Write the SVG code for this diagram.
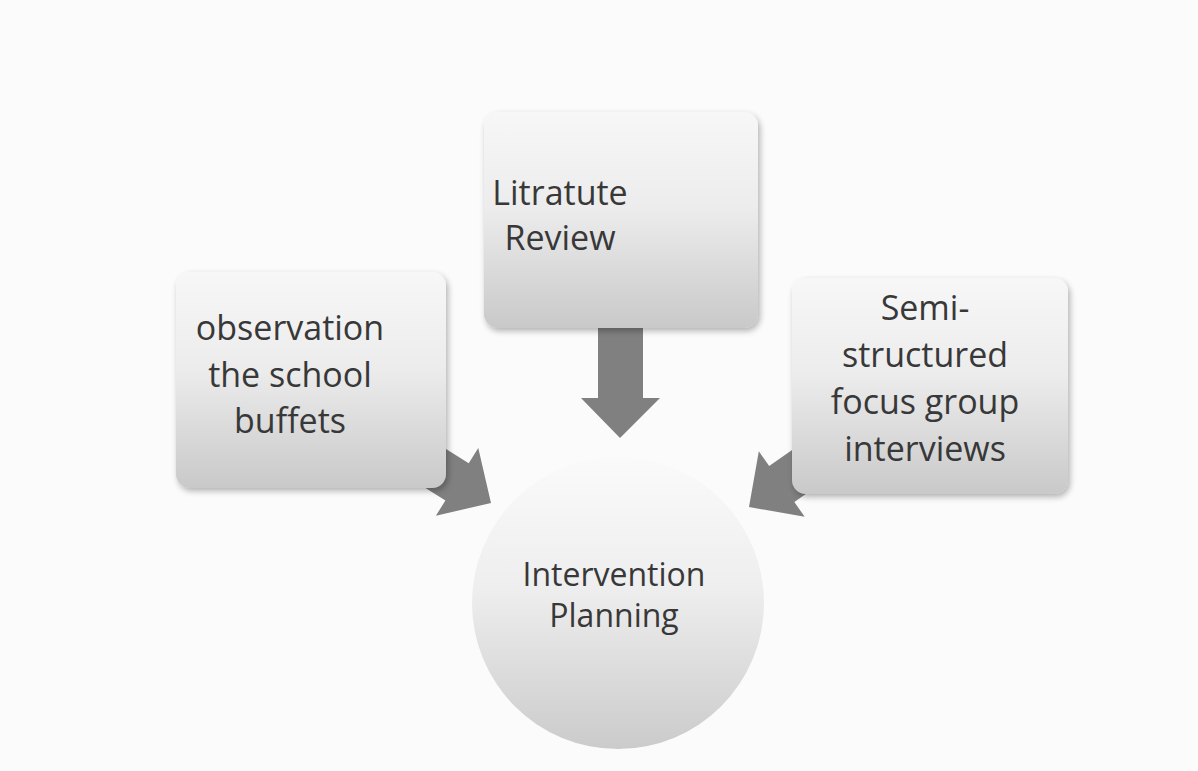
<svg xmlns="http://www.w3.org/2000/svg" width="1198" height="771" viewBox="0 0 1198 771">
<style>
.t{font-family:"Open Sans","Liberation Sans",sans-serif;fill:#383838;text-anchor:middle}
.b{font-size:34px}
.c{font-size:32px}
.arr{fill:#808080}
</style>
<defs>
<linearGradient id="g" x1="0" y1="0" x2="0" y2="1">
<stop offset="0" stop-color="#f7f7f7"/>
<stop offset="0.45" stop-color="#ececec"/>
<stop offset="1" stop-color="#c9c9c9"/>
</linearGradient>
<linearGradient id="gc" x1="0" y1="0" x2="0" y2="1">
<stop offset="0" stop-color="#fafafa"/>
<stop offset="0.45" stop-color="#eeeeee"/>
<stop offset="1" stop-color="#cbcbcb"/>
</linearGradient>
<filter id="sh" x="-10%" y="-10%" width="125%" height="125%">
<feGaussianBlur in="SourceAlpha" stdDeviation="3"/>
<feOffset dx="2" dy="3"/>
<feComponentTransfer><feFuncA type="linear" slope="0.3"/></feComponentTransfer>
<feMerge><feMergeNode/><feMergeNode in="SourceGraphic"/></feMerge>
</filter>
</defs>
<rect width="1198" height="771" fill="#fbfbfb"/>
<g id="connectors">
<path class="arr" d="M598,320 H643 V398 H660 L620,438 L581,398 H598 Z"/>
<g transform="translate(491,503) rotate(32)"><path class="arr" d="M-40,-22 L-110,-22 L-110,22 L-40,22 Z M-40,-40 L0,0 L-40,40 Z"/></g>
<g transform="translate(749,507) rotate(145)"><path class="arr" d="M-40,-22 L-110,-22 L-110,22 L-40,22 Z M-40,-40 L0,0 L-40,40 Z"/></g>
</g>
<g id="n-lit">
<rect x="484" y="112" width="274" height="216" rx="14" fill="url(#g)" filter="url(#sh)"/>
<text class="t b" x="560" y="205">Litratute</text>
<text class="t b" x="560" y="250">Review</text>
</g>
<g id="n-obs">
<rect x="176" y="272" width="270" height="216" rx="14" fill="url(#g)" filter="url(#sh)"/>
<text class="t b" x="290" y="340">observation</text>
<text class="t b" x="290" y="387">the school</text>
<text class="t b" x="290" y="433">buffets</text>
</g>
<g id="n-semi">
<rect x="792" y="278" width="276" height="216" rx="14" fill="url(#g)" filter="url(#sh)"/>
<text class="t b" x="925" y="320">Semi-</text>
<text class="t b" x="925" y="367">structured</text>
<text class="t b" x="925" y="414">focus group</text>
<text class="t b" x="925" y="461">interviews</text>
</g>
<g id="n-plan">
<circle cx="618" cy="603" r="146" fill="url(#gc)"/>
<text class="t c" x="614" y="586">Intervention</text>
<text class="t c" x="614" y="627">Planning</text>
</g>
</svg>
